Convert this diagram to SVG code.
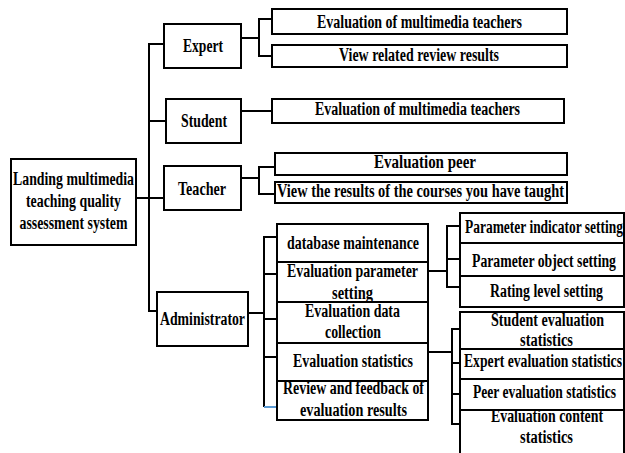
<svg xmlns="http://www.w3.org/2000/svg" width="625" height="453" viewBox="0 0 625 453">
<style>
rect{fill:#fff;stroke:#000;stroke-width:2}
text{font-family:"Liberation Serif","Times New Roman",serif;font-weight:bold;font-size:18px;text-anchor:middle;fill:#000}
.c path{fill:none;stroke:#000;stroke-width:2}
.c path.blue{stroke:#5b9bd5}
</style>
<rect x="-5" y="-5" width="640" height="470" style="stroke:none;fill:#fff"/>
<g class="c" id="connectors">
<path d="M136,198H164"/>
<path d="M164,44H149V311H157"/>
<path d="M149,121H166"/>
<path d="M241,38H259M272,19H259V56H272"/>
<path d="M241,111H272"/>
<path d="M241,178H259M275,167H259V194H275"/>
<path d="M248,313H264M277,237H264V407"/>
<path d="M264,274H277M264,319H277M264,357H277"/>
<path class="blue" d="M264,407H277"/>
<path d="M428,271H447M460,226H447V287H460M447,259H460"/>
<path d="M428,352H452M460,329H452V424H460M452,363H460M452,394H460"/>
</g>
<g id="root"><rect x="11" y="159" width="125" height="86"/>
<text x="73.5" y="185" textLength="121" lengthAdjust="spacingAndGlyphs">Landing multimedia</text>
<text x="73.5" y="207" textLength="95" lengthAdjust="spacingAndGlyphs">teaching quality</text>
<text x="73.5" y="229" textLength="108" lengthAdjust="spacingAndGlyphs">assessment system</text></g>
<g id="expert"><rect x="164" y="24" width="77" height="44"/><text x="203" y="52" textLength="40" lengthAdjust="spacingAndGlyphs">Expert</text></g>
<g id="student"><rect x="166" y="99" width="75" height="44"/><text x="204" y="127" textLength="46" lengthAdjust="spacingAndGlyphs">Student</text></g>
<g id="teacher"><rect x="164" y="166" width="77" height="44"/><text x="202" y="195" textLength="48" lengthAdjust="spacingAndGlyphs">Teacher</text></g>
<g id="administrator"><rect x="157" y="292" width="91" height="54"/><text x="202.5" y="325" textLength="85" lengthAdjust="spacingAndGlyphs">Administrator</text></g>
<g id="expert-eval"><rect x="272" y="9" width="295" height="25"/><text x="419.5" y="28" textLength="205" lengthAdjust="spacingAndGlyphs">Evaluation of multimedia teachers</text></g>
<g id="expert-view"><rect x="272" y="45" width="295" height="22"/><text x="419" y="61" textLength="160" lengthAdjust="spacingAndGlyphs">View related review results</text></g>
<g id="student-eval"><rect x="272" y="99" width="292" height="24"/><text x="417.5" y="115" textLength="205" lengthAdjust="spacingAndGlyphs">Evaluation of multimedia teachers</text></g>
<g id="teacher-peer"><rect x="275" y="153" width="292" height="22"/><text x="425" y="168" textLength="102" lengthAdjust="spacingAndGlyphs">Evaluation peer</text></g>
<g id="teacher-view"><rect x="275" y="182" width="292" height="21"/><text x="420.5" y="197" textLength="287" lengthAdjust="spacingAndGlyphs">View the results of the courses you have taught</text></g>
<g id="db"><rect x="277" y="224" width="151" height="38"/><text x="353" y="249" textLength="132" lengthAdjust="spacingAndGlyphs">database maintenance</text></g>
<g id="param"><rect x="277" y="262" width="151" height="40"/><text x="352.5" y="277" textLength="131" lengthAdjust="spacingAndGlyphs">Evaluation parameter</text><text x="352.5" y="299" textLength="41" lengthAdjust="spacingAndGlyphs">setting</text></g>
<g id="collect"><rect x="277" y="302" width="151" height="41"/><text x="352.5" y="317" textLength="95" lengthAdjust="spacingAndGlyphs">Evaluation data</text><text x="353" y="338" textLength="56" lengthAdjust="spacingAndGlyphs">collection</text></g>
<g id="stats"><rect x="277" y="343" width="151" height="38"/><text x="353" y="367" textLength="120" lengthAdjust="spacingAndGlyphs">Evaluation statistics</text></g>
<g id="review"><rect x="277" y="381" width="151" height="39"/><text x="353.5" y="394" textLength="141" lengthAdjust="spacingAndGlyphs">Review and feedback of</text><text x="353.5" y="416" textLength="107" lengthAdjust="spacingAndGlyphs">evaluation results</text></g>
<g id="p-indicator"><rect x="460" y="213" width="164" height="30"/><text x="544" y="233" textLength="158" lengthAdjust="spacingAndGlyphs">Parameter indicator setting</text></g>
<g id="p-object"><rect x="460" y="243" width="164" height="33"/><text x="544" y="267" textLength="144" lengthAdjust="spacingAndGlyphs">Parameter object setting</text></g>
<g id="rating"><rect x="460" y="276" width="164" height="31"/><text x="546.5" y="297" textLength="113" lengthAdjust="spacingAndGlyphs">Rating level setting</text></g>
<g id="s-student"><rect x="460" y="312" width="164" height="37"/><text x="547.5" y="326" textLength="113" lengthAdjust="spacingAndGlyphs">Student evaluation</text><text x="546.5" y="346" textLength="53" lengthAdjust="spacingAndGlyphs">statistics</text></g>
<g id="s-expert"><rect x="460" y="349" width="164" height="30"/><text x="543" y="367" textLength="158" lengthAdjust="spacingAndGlyphs">Expert evaluation statistics</text></g>
<g id="s-peer"><rect x="460" y="379" width="164" height="31"/><text x="544.5" y="398" textLength="143" lengthAdjust="spacingAndGlyphs">Peer evaluation statistics</text></g>
<g id="s-content"><rect x="460" y="410" width="164" height="60"/><text x="547" y="422" textLength="112" lengthAdjust="spacingAndGlyphs">Evaluation content</text><text x="546.5" y="443" textLength="53" lengthAdjust="spacingAndGlyphs">statistics</text></g>
</svg>
